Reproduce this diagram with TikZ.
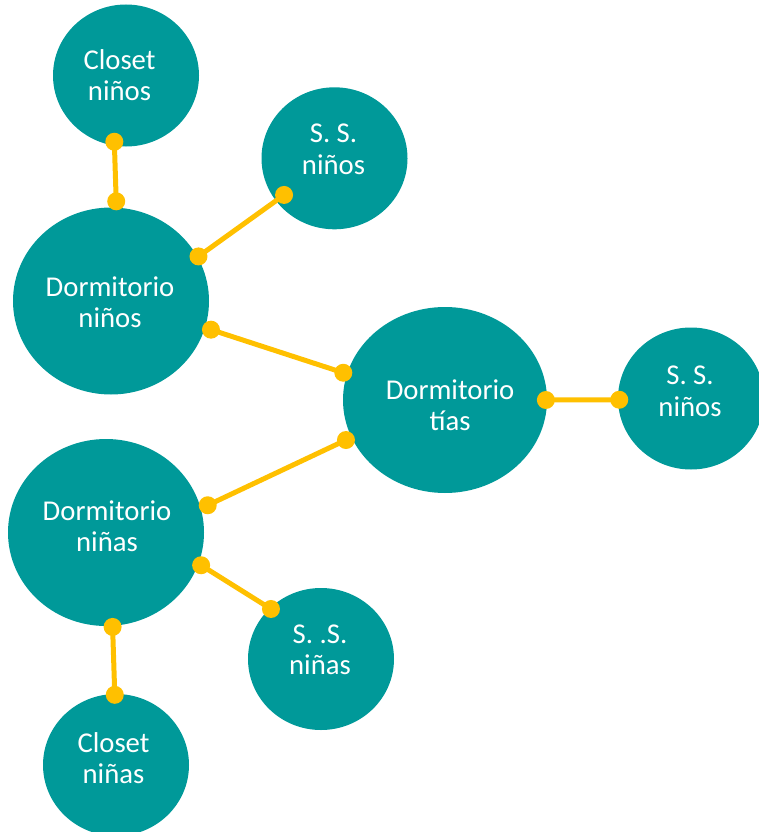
\documentclass[tikz,border=0pt]{standalone}
\usepackage{fontspec}
\setmainfont{Carlito}
\usetikzlibrary{shapes.geometric,calc}
\definecolor{tealbub}{RGB}{0,153,153}
\definecolor{goldlink}{RGB}{255,192,0}
\begin{document}
\begin{tikzpicture}[x=1pt,y=-1pt,
  bub/.style={ellipse,fill=tealbub,draw=none,inner sep=0pt},
  smallbub/.style={bub,minimum width=146pt,minimum height=142pt},
  bigbub/.style={bub,minimum width=196pt,minimum height=187pt},
  lbl/.style={text=white,align=center,inner sep=0pt,font=\fontsize{28.7}{31.5}\selectfont},
  link/.style={draw=goldlink,line width=5pt},
  linkdot/.style={circle,fill=goldlink,draw=none,inner sep=0pt,minimum size=18pt}]
\useasboundingbox (0,0) rectangle (758,832);
% bubbles
\node[smallbub] (A) at (126,75.5) {};
\node[smallbub] (B) at (334.5,158.3) {};
\node[bigbub] (C) at (111,301) {};
\node[bigbub,minimum width=204pt,minimum height=186pt] (D) at (445,400) {};
\node[smallbub] (E) at (691,398.5) {};
\node[bigbub] (F) at (106,532.5) {};
\node[smallbub] (G) at (321,659) {};
\node[smallbub] (H) at (116,765) {};
% connectors
\draw[link] ($(A.center)!0.944!(A.260)$) -- ($(C.center)!1.065!(C.87)$)
  node[linkdot,pos=0] (d1) {} node[linkdot,pos=1] (d2) {};
\draw[link] ($(C.center)!1.01!(C.27.35)$) -- ($(B.center)!0.86!(B.216.2)$)
  node[linkdot,pos=0] (d3) {} node[linkdot,pos=1] (d4) {};
\draw[link] ($(C.center)!1.063!(C.344.5)$) -- ($(D.center)!1.037!(D.165.3)$)
  node[linkdot,pos=0] (d5) {} node[linkdot,pos=1] (d6) {};
\draw[link] ($(D.center)!1.06!(D.202)$) -- ($(F.center)!1.076!(F.15.56)$)
  node[linkdot,pos=0] (d7) {} node[linkdot,pos=1] (d8) {};
\draw[link] ($(D.center)!0.987!(D.0)$) -- ($(E.center)!0.98!(E.181.2)$)
  node[linkdot,pos=0] (d9) {} node[linkdot,pos=1] (d10) {};
\draw[link] ($(F.center)!1.03!(F.341.55)$) -- ($(G.center)!0.98!(G.135.35)$)
  node[linkdot,pos=0] (d11) {} node[linkdot,pos=1] (d12) {};
\draw[link] ($(F.center)!1.01!(F.274.7)$) -- ($(H.center)!0.986!(H.91)$)
  node[linkdot,pos=0] (d13) {} node[linkdot,pos=1] (d14) {};
% labels
\node[lbl] (tA) at (119.5,75) {Closet\\niños};
\node[lbl] (tB) at (333.5,149.5) {S. S.\\niños};
\node[lbl] (tC) at (110,302) {Dormitorio\\niños};
\node[lbl] (tD) at (450,405) {Dormitorio\\tías};
\node[lbl] (tE) at (690,391.5) {S. S.\\niños};
\node[lbl] (tF) at (107,526) {Dormitorio\\niñas};
\node[lbl] (tG) at (320,650) {S. .S.\\niñas};
\node[lbl] (tH) at (113.5,758) {Closet\\niñas};
\end{tikzpicture}
\end{document}
